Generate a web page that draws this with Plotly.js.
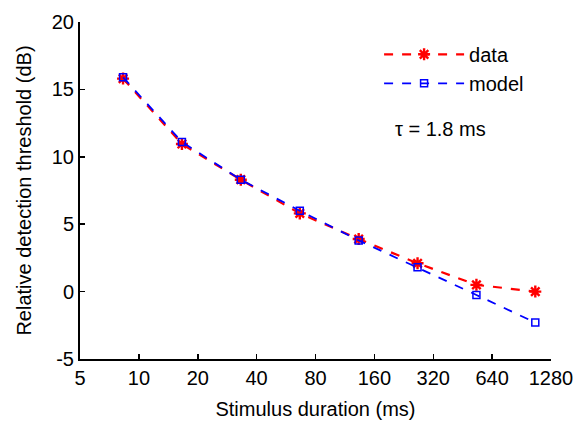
<!DOCTYPE html>
<html><head><meta charset="utf-8">
<script src="https://cdn.plot.ly/plotly-3.0.1.min.js"></script>
<style>html,body{margin:0;padding:0;background:#fff}#c{width:578px;height:423px}</style>
</head><body><div id="c"></div>
<script>
const duration = [8.3, 16.6, 33.2, 66.5, 133, 266, 532, 1064];
const dataThr = [15.8, 10.95, 8.3, 5.8, 3.9, 2.1, 0.5, 0.0];
const modelThr = [15.9, 11.1, 8.3, 6.0, 3.8, 1.8, -0.25, -2.3];
const xTicks = [5, 10, 20, 40, 80, 160, 320, 640, 1280];
const yTicks = [-5, 0, 5, 10, 15, 20];
const yTickText = ['-5', '0', '5', '10', '15', '20'];
const font = 'Liberation Sans, Arial, sans-serif';

const traces = [
  {x: duration, y: dataThr, name: 'data', mode: 'lines+markers', type: 'scatter',
   line: {color: '#ff0000', dash: 'dash', width: 2.2},
   marker: {symbol: 'asterisk-open', size: 10, color: '#ff0000', line: {color: '#ff0000', width: 2.4}}},
  {x: duration, y: modelThr, name: 'model', mode: 'lines+markers', type: 'scatter',
   line: {color: '#0000ff', dash: 'dash', width: 1.8},
   marker: {symbol: 'square-open', size: 7, color: '#0000ff', line: {color: '#0000ff', width: 1.5}}}
];

const layout = {
  width: 578, height: 423,
  margin: {l: 80, r: 27, t: 22, b: 64},
  paper_bgcolor: '#fff', plot_bgcolor: '#fff',
  font: {family: font, size: 20, color: '#000'},
  showlegend: true,
  legend: {x: 0.635, y: 0.962, xanchor: 'left', yanchor: 'top', bgcolor: 'rgba(0,0,0,0)',
           font: {family: font, size: 20}, itemwidth: 80, tracegroupgap: 0},
  xaxis: {type: 'log', range: [Math.log10(5), Math.log10(1280)],
          tickvals: xTicks, ticktext: xTicks.map(String),
          ticks: 'inside', ticklen: 5, tickwidth: 1.5, tickcolor: '#000',
          showline: true, linecolor: '#000', linewidth: 2, showgrid: false, zeroline: false,
          tickfont: {family: font, size: 20},
          title: {text: 'Stimulus duration (ms)', font: {family: font, size: 20}, standoff: 14}},
  yaxis: {range: [-5, 20], tickvals: yTicks, ticktext: yTickText,
          ticks: 'inside', ticklen: 5, tickwidth: 1.5, tickcolor: '#000',
          showline: true, linecolor: '#000', linewidth: 2, showgrid: false, zeroline: false,
          tickfont: {family: font, size: 20},
          title: {text: 'Relative detection threshold (dB)', font: {family: font, size: 20}, standoff: 15}},
  annotations: [{text: 'τ = 1.8 ms', xref: 'paper', yref: 'paper', x: 0.665, y: 0.682,
                 xanchor: 'left', yanchor: 'middle', showarrow: false, font: {family: font, size: 20}}]
};
Plotly.newPlot('c', traces, layout, {displayModeBar: false, staticPlot: true});
</script></body></html>
